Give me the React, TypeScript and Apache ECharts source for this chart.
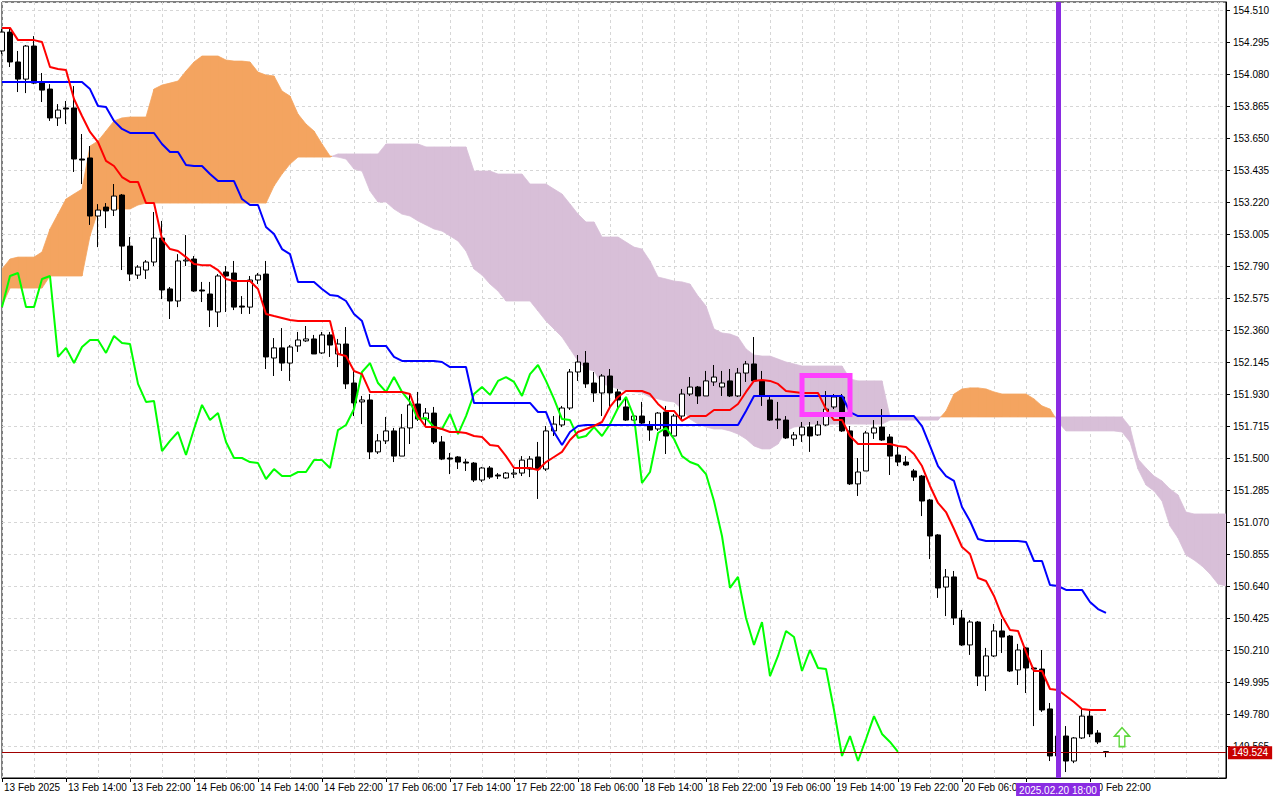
import React, { useEffect, useRef } from "react";
import * as echarts from "echarts";

// Trading sessions (hourly bars): date, first hour, last hour
const DAY_SESSIONS: [string, number, number][] = [
  ["2025.02.13", 6, 23],
  ["2025.02.14", 0, 23],
  ["2025.02.17", 0, 23],
  ["2025.02.18", 0, 23],
  ["2025.02.19", 0, 23],
  ["2025.02.20", 0, 23],
  ["2025.02.21", 0, 15],
];

// Bottom time labels, one every 8 bars ("" = hidden under the cursor label)
const TIME_LABELS = [
  "13 Feb 2025", "13 Feb 14:00", "13 Feb 22:00", "14 Feb 06:00", "14 Feb 14:00", "14 Feb 22:00",
  "17 Feb 06:00", "17 Feb 14:00", "17 Feb 22:00", "18 Feb 06:00", "18 Feb 14:00", "18 Feb 22:00",
  "19 Feb 06:00", "19 Feb 14:00", "19 Feb 22:00", "20 Feb 06:00", "", "20 Feb 22:00",
];

const PRICE_MIN = 149.35;
const PRICE_MAX = 154.564;
const PRICE_STEP = 0.215;

const OPEN = [
  154.235, 154.362, 154.161, 154.046, 154.268, 154.026, 153.979, 153.785, 153.852, 153.852,
  153.509, 153.516, 153.126, 153.186, 153.166, 153.267, 152.924, 152.729, 152.763, 152.817,
  152.978, 152.636, 152.555, 152.824, 152.837, 152.629, 152.602, 152.481, 152.750, 152.743,
  152.521, 152.514, 152.696, 152.736, 152.172, 152.240, 152.138, 152.253, 152.287, 152.300,
  152.206, 152.327, 152.199, 152.266, 152.004, 151.877, 151.890, 151.541, 151.615, 151.682,
  151.513, 151.702, 151.863, 151.762, 151.802, 151.608, 151.500, 151.507, 151.473, 151.466,
  151.352, 151.433, 151.386, 151.366, 151.392, 151.399, 151.426, 151.507, 151.426, 151.682,
  151.722, 151.836, 152.078, 152.138, 152.004, 151.937, 152.051, 151.944, 151.843, 151.755,
  151.782, 151.722, 151.695, 151.809, 151.648, 151.782, 151.930, 151.977, 151.917, 152.011,
  151.977, 152.018, 151.917, 152.071, 152.132, 152.018, 151.890, 151.762, 151.755, 151.628,
  151.655, 151.708, 151.655, 151.722, 151.843, 151.910, 151.682, 151.326, 151.413, 151.668,
  151.708, 151.641, 151.520, 151.473, 151.413, 151.379, 151.218, 150.983, 150.633, 150.701,
  150.425, 150.244, 150.398, 150.035, 150.170, 150.338, 150.304, 150.076, 150.224, 150.089,
  150.082, 149.814, 149.498, 149.632, 149.464, 149.619, 149.766, 149.652, 149.527,
];
const CLOSE = [
  154.362, 154.161, 154.046, 154.268, 154.019, 153.972, 153.785, 153.838, 153.845, 153.509,
  153.502, 153.126, 153.166, 153.160, 153.260, 152.924, 152.736, 152.783, 152.817, 152.978,
  152.629, 152.555, 152.824, 152.830, 152.622, 152.622, 152.494, 152.723, 152.723, 152.514,
  152.514, 152.696, 152.729, 152.179, 152.240, 152.138, 152.246, 152.293, 152.300, 152.199,
  152.327, 152.259, 152.266, 151.998, 151.870, 151.890, 151.541, 151.615, 151.682, 151.513,
  151.702, 151.857, 151.762, 151.802, 151.608, 151.493, 151.493, 151.473, 151.466, 151.352,
  151.433, 151.372, 151.379, 151.399, 151.399, 151.486, 151.493, 151.426, 151.682, 151.728,
  151.836, 152.078, 152.145, 151.998, 151.937, 152.051, 151.937, 151.890, 151.755, 151.782,
  151.735, 151.688, 151.802, 151.648, 151.782, 151.930, 151.977, 151.917, 152.018, 152.044,
  152.004, 151.917, 152.071, 152.132, 152.018, 151.917, 151.755, 151.755, 151.635, 151.655,
  151.708, 151.648, 151.722, 151.829, 151.910, 151.682, 151.326, 151.406, 151.668, 151.702,
  151.621, 151.513, 151.473, 151.453, 151.372, 151.211, 150.976, 150.627, 150.701, 150.425,
  150.244, 150.398, 150.035, 150.170, 150.338, 150.297, 150.069, 150.210, 150.089, 150.082,
  149.807, 149.498, 149.632, 149.464, 149.619, 149.766, 149.646, 149.592, 149.524,
];
const LOW = [
  154.214, 154.127, 153.959, 153.952, 154.012, 153.892, 153.765, 153.731, 153.744, 153.422,
  153.341, 153.066, 152.917, 153.045, 153.126, 152.763, 152.689, 152.703, 152.703, 152.790,
  152.568, 152.434, 152.514, 152.790, 152.616, 152.548, 152.380, 152.380, 152.481, 152.494,
  152.468, 152.468, 152.669, 152.098, 152.051, 152.085, 152.018, 152.213, 152.280, 152.199,
  152.199, 152.179, 152.111, 151.964, 151.782, 151.728, 151.493, 151.527, 151.594, 151.473,
  151.513, 151.594, 151.749, 151.715, 151.594, 151.486, 151.392, 151.426, 151.413, 151.339,
  151.339, 151.359, 151.359, 151.359, 151.366, 151.379, 151.372, 151.225, 151.413, 151.648,
  151.708, 151.823, 152.018, 151.971, 151.877, 151.782, 151.829, 151.829, 151.749, 151.749,
  151.715, 151.615, 151.682, 151.527, 151.648, 151.762, 151.917, 151.863, 151.917, 151.984,
  151.917, 151.910, 151.910, 152.011, 152.011, 151.850, 151.749, 151.695, 151.628, 151.581,
  151.608, 151.541, 151.648, 151.715, 151.829, 151.675, 151.319, 151.245, 151.413, 151.628,
  151.615, 151.386, 151.446, 151.446, 151.346, 151.110, 150.821, 150.560, 150.438, 150.378,
  150.237, 150.177, 149.968, 149.935, 150.163, 150.190, 150.062, 149.975, 149.921, 149.699,
  149.794, 149.464, 149.444, 149.390, 149.450, 149.612, 149.625, 149.578, 149.490,
];
const HIGH = [
  154.382, 154.396, 154.235, 154.275, 154.335, 154.087, 154.012, 153.878, 153.899, 153.999,
  153.677, 153.596, 153.206, 153.213, 153.341, 153.274, 152.985, 152.796, 152.830, 153.153,
  153.093, 152.649, 152.870, 152.998, 152.857, 152.683, 152.683, 152.736, 152.790, 152.824,
  152.588, 152.723, 152.743, 152.824, 152.306, 152.373, 152.259, 152.347, 152.387, 152.327,
  152.347, 152.347, 152.300, 152.380, 152.098, 151.917, 151.930, 151.661, 151.776, 151.702,
  151.796, 151.930, 151.944, 151.836, 151.843, 151.648, 151.534, 151.513, 151.493, 151.473,
  151.440, 151.446, 151.399, 151.406, 151.426, 151.513, 151.513, 151.608, 151.715, 151.782,
  151.850, 152.098, 152.192, 152.219, 152.078, 152.064, 152.098, 151.964, 151.910, 151.796,
  151.877, 151.749, 151.809, 151.850, 151.796, 151.964, 152.044, 151.984, 152.085, 152.125,
  152.085, 152.098, 152.105, 152.152, 152.313, 152.085, 151.917, 151.877, 151.782, 151.675,
  151.742, 151.742, 151.749, 151.950, 151.930, 151.930, 151.715, 151.500, 151.682, 151.755,
  151.829, 151.661, 151.574, 151.513, 151.426, 151.386, 151.225, 150.989, 150.754, 150.741,
  150.479, 150.411, 150.405, 150.224, 150.385, 150.418, 150.311, 150.251, 150.231, 150.096,
  150.210, 149.854, 149.679, 149.699, 149.625, 149.814, 149.814, 149.672, 149.531,
];

// Tenkan-sen (red)
const TENKAN = [
  154.390, 154.390, 154.308, 154.308, 154.308, 154.295, 154.127, 154.114, 154.107, 153.912,
  153.798, 153.691, 153.623, 153.496, 153.462, 153.388, 153.355, 153.355, 153.213, 153.213,
  152.971, 152.904, 152.891, 152.850, 152.803, 152.796, 152.796, 152.763, 152.703, 152.689,
  152.689, 152.689, 152.636, 152.468, 152.454, 152.441, 152.427, 152.420, 152.420, 152.420,
  152.420, 152.420, 152.199, 152.186, 152.085, 152.064, 151.944, 151.944, 151.944, 151.944,
  151.944, 151.930, 151.782, 151.708, 151.708, 151.695, 151.675, 151.675, 151.668, 151.648,
  151.641, 151.587, 151.581, 151.513, 151.433, 151.433, 151.433, 151.419, 151.473, 151.507,
  151.541, 151.621, 151.675, 151.695, 151.715, 151.742, 151.843, 151.910, 151.950, 151.950,
  151.950, 151.930, 151.863, 151.816, 151.816, 151.749, 151.782, 151.782, 151.782, 151.823,
  151.823, 151.823, 151.863, 151.944, 152.018, 152.024, 152.018, 151.998, 151.950, 151.944,
  151.937, 151.937, 151.937, 151.829, 151.755, 151.755, 151.648, 151.594, 151.594, 151.594,
  151.594, 151.594, 151.581, 151.574, 151.527, 151.446, 151.312, 151.198, 151.137, 151.023,
  150.902, 150.855, 150.694, 150.674, 150.573, 150.438, 150.344, 150.338, 150.197, 150.069,
  150.069, 149.948, 149.941, 149.901, 149.861, 149.814, 149.807, 149.807, 149.807,
];

// Kijun-sen (blue)
const KIJUN = [
  154.026, 154.026, 154.026, 154.026, 154.026, 154.026, 154.026, 154.026, 154.026, 154.026,
  154.026, 153.979, 153.865, 153.858, 153.765, 153.711, 153.684, 153.684, 153.684, 153.684,
  153.610, 153.556, 153.556, 153.469, 153.462, 153.462, 153.408, 153.361, 153.361, 153.361,
  153.240, 153.200, 153.200, 153.052, 153.005, 152.904, 152.870, 152.683, 152.683, 152.683,
  152.636, 152.595, 152.588, 152.555, 152.468, 152.420, 152.253, 152.253, 152.253, 152.179,
  152.152, 152.152, 152.152, 152.152, 152.152, 152.145, 152.111, 152.111, 152.111, 151.870,
  151.870, 151.870, 151.870, 151.870, 151.870, 151.870, 151.870, 151.809, 151.809, 151.675,
  151.587, 151.675, 151.715, 151.722, 151.722, 151.722, 151.722, 151.722, 151.722, 151.722,
  151.722, 151.722, 151.722, 151.722, 151.722, 151.722, 151.722, 151.722, 151.722, 151.722,
  151.722, 151.722, 151.722, 151.816, 151.917, 151.917, 151.917, 151.917, 151.917, 151.917,
  151.917, 151.917, 151.917, 151.917, 151.917, 151.917, 151.809, 151.782, 151.782, 151.782,
  151.782, 151.782, 151.782, 151.782, 151.782, 151.715, 151.581, 151.446, 151.379, 151.346,
  151.171, 151.077, 150.956, 150.943, 150.943, 150.943, 150.943, 150.943, 150.936, 150.808,
  150.808, 150.647, 150.640, 150.614, 150.614, 150.614, 150.533, 150.485, 150.459,
];

// Chikou span (green), drawn 26 bars back
const CHIKOU = [
  152.514, 152.723, 152.743, 152.514, 152.514, 152.703, 152.723, 152.179, 152.240, 152.138,
  152.246, 152.293, 152.293, 152.206, 152.320, 152.273, 152.266, 151.998, 151.877, 151.883,
  151.547, 151.615, 151.675, 151.520, 151.695, 151.857, 151.755, 151.802, 151.608, 151.500,
  151.500, 151.473, 151.466, 151.359, 151.426, 151.379, 151.379, 151.406, 151.406, 151.486,
  151.486, 151.433, 151.688, 151.722, 151.829, 152.078, 152.138, 152.004, 151.944, 152.044,
  151.944, 151.877, 151.762, 151.769, 151.708, 151.695, 151.796, 151.661, 151.782, 151.930,
  151.977, 151.924, 152.018, 152.044, 152.011, 151.917, 152.064, 152.125, 152.018, 151.897,
  151.762, 151.755, 151.635, 151.648, 151.708, 151.648, 151.728, 151.836, 151.910, 151.776,
  151.332, 151.406, 151.668, 151.702, 151.628, 151.513, 151.473, 151.453, 151.392, 151.211,
  150.976, 150.627, 150.701, 150.425, 150.244, 150.398, 150.035, 150.170, 150.338, 150.297,
  150.069, 150.210, 150.089, 150.082, 149.807, 149.498, 149.632, 149.464, 149.612, 149.766,
  149.646, 149.592, 149.525,
];

// Senkou span A and B (cloud), shifted 26 bars forward
const SENKOU_A = [
  152.770, 152.837, 152.850, 152.850, 152.850, 152.884, 153.039, 153.139, 153.240, 153.274,
  153.307, 153.596, 153.630, 153.697, 153.765, 153.785, 153.791, 153.791, 153.791, 153.979,
  154.006, 154.019, 154.033, 154.100, 154.161, 154.201, 154.201, 154.201, 154.174, 154.167,
  154.167, 154.161, 154.093, 154.073, 154.067, 153.966, 153.932, 153.811, 153.744, 153.697,
  153.610, 153.529, 153.522, 153.509, 153.442, 153.428, 153.294, 153.220, 153.220, 153.173,
  153.139, 153.126, 153.093, 153.066, 153.039, 153.025, 152.992, 152.958, 152.891, 152.770,
  152.729, 152.669, 152.622, 152.555, 152.555, 152.555, 152.555, 152.488, 152.420, 152.367,
  152.313, 152.233, 152.152, 152.098, 152.085, 151.998, 151.984, 151.964, 151.950, 151.944,
  151.937, 151.910, 151.897, 151.883, 151.877, 151.829, 151.762, 151.728, 151.708, 151.695,
  151.695, 151.682, 151.661, 151.628, 151.581, 151.561, 151.561, 151.594, 151.682, 151.708,
  151.715, 151.728, 151.728, 151.728, 151.728, 151.728, 151.728, 151.728, 151.728, 151.728,
  151.728, 151.755, 151.755, 151.755, 151.755, 151.755, 151.755, 151.755, 151.816, 151.930,
  151.964, 151.971, 151.971, 151.964, 151.944, 151.930, 151.930, 151.930, 151.930, 151.897,
  151.850, 151.829, 151.742, 151.682, 151.682, 151.682, 151.682, 151.682, 151.682, 151.682,
  151.675, 151.608, 151.426, 151.319, 151.278, 151.211, 151.043, 150.963, 150.848, 150.815,
  150.774, 150.721, 150.654, 150.640,
];
const SENKOU_B = [
  152.521, 152.642, 152.642, 152.642, 152.642, 152.642, 152.723, 152.723, 152.723, 152.723,
  152.723, 152.992, 153.160, 153.173, 153.173, 153.173, 153.173, 153.200, 153.213, 153.213,
  153.213, 153.213, 153.213, 153.213, 153.213, 153.213, 153.213, 153.213, 153.213, 153.213,
  153.213, 153.213, 153.213, 153.213, 153.328, 153.408, 153.475, 153.522, 153.522, 153.522,
  153.522, 153.522, 153.543, 153.543, 153.543, 153.543, 153.543, 153.543, 153.610, 153.610,
  153.610, 153.610, 153.610, 153.590, 153.590, 153.590, 153.590, 153.590, 153.590, 153.428,
  153.428, 153.428, 153.408, 153.408, 153.408, 153.408, 153.341, 153.341, 153.341, 153.307,
  153.274, 153.207, 153.139, 153.086, 153.086, 152.985, 152.985, 152.985, 152.951, 152.917,
  152.904, 152.824, 152.716, 152.703, 152.689, 152.683, 152.669, 152.588, 152.521, 152.367,
  152.340, 152.333, 152.313, 152.233, 152.192, 152.185, 152.185, 152.165, 152.145, 152.132,
  152.118, 152.118, 152.118, 152.118, 152.118, 152.118, 152.031, 152.018, 152.018, 152.018,
  152.018, 151.776, 151.776, 151.776, 151.776, 151.776, 151.776, 151.776, 151.776, 151.776,
  151.776, 151.776, 151.776, 151.776, 151.776, 151.776, 151.776, 151.776, 151.776, 151.776,
  151.776, 151.776, 151.776, 151.776, 151.776, 151.776, 151.776, 151.776, 151.776, 151.776,
  151.776, 151.708, 151.493, 151.433, 151.379, 151.346, 151.292, 151.252, 151.137, 151.124,
  151.124, 151.124, 151.124, 151.124,
];

// Chart objects
const SIGNAL_BOX = [100, 152.054, 106, 151.792]; // fromBar, top price, toBar, bottom price
const CURSOR_BAR = 132;
const CURSOR_LABEL = "2025.02.20 18:00";
const LAST_PRICE = 149.524;
const ARROW_BAR = 140;
const ARROW_PRICE = 149.625;

const BULL_CLOUD = "#F4A460";
const BEAR_CLOUD = "#D8BFD8";
const FONT = "Liberation Sans";

function buildCategories(): string[] {
  const out: string[] = [];
  DAY_SESSIONS.forEach(([d, h0, h1]) => {
    for (let h = h0; h <= h1; h++) out.push(`${d} ${String(h).padStart(2, "0")}:00`);
  });
  return out;
}

export default function App() {
  const ref = useRef<HTMLDivElement>(null);

  useEffect(() => {
    if (!ref.current) return;
    const chart = echarts.init(ref.current, null, { renderer: "svg" });
    const cats = buildCategories();
    const lastLabelBar = (TIME_LABELS.length - 1) * 8;
    const labelInterval = (i: number) => i % 8 === 0 && i <= lastLabelBar;

    const candles = OPEN.map((o, k) => [o, CLOSE[k], LOW[k], HIGH[k]]);
    const cloudData = SENKOU_A.slice(0, -1).map((a, k) => [k, a, SENKOU_B[k], SENKOU_A[k + 1], SENKOU_B[k + 1]]);

    const option: any = {
      animation: false,
      backgroundColor: "#ffffff",
      textStyle: { fontFamily: FONT },
      grid: {
        left: 2, top: 2, right: 54, bottom: 22,
        show: true, borderColor: "#000", borderWidth: 1, backgroundColor: "#fff",
      },
      xAxis: {
        type: "category",
        data: cats,
        boundaryGap: false,
        axisLine: { show: true, lineStyle: { color: "#000", width: 1 } },
        axisTick: { show: true, interval: labelInterval, length: 4, lineStyle: { color: "#000" } },
        axisLabel: {
          show: true,
          interval: labelInterval,
          align: "left",
          margin: 4,
          padding: [0, 0, 0, 2],
          fontSize: 10,
          fontFamily: FONT,
          color: "#000",
          formatter: (_v: string, i: number) => (i % 8 === 0 && i / 8 < TIME_LABELS.length ? TIME_LABELS[i / 8] : ""),
        },
        splitLine: { show: true, interval: 3, lineStyle: { color: "#d6d6d6", type: [3, 3], width: 1 } },
      },
      yAxis: {
        type: "value",
        position: "right",
        min: PRICE_MIN,
        max: PRICE_MAX,
        interval: PRICE_STEP,
        axisLine: { show: true, lineStyle: { color: "#000" } },
        axisTick: { show: true, length: 4, lineStyle: { color: "#000" } },
        axisLabel: {
          show: true,
          showMinLabel: false,
          showMaxLabel: false,
          margin: 7,
          fontSize: 10,
          fontFamily: FONT,
          color: "#000",
          formatter: (v: number) => v.toFixed(3),
        },
        splitLine: { show: true, lineStyle: { color: "#d6d6d6", type: [3, 3], width: 1 } },
      },
      series: [
        {
          name: "cloud",
          type: "custom",
          z: 1,
          clip: true,
          silent: true,
          encode: { x: 0, y: [1, 2, 3, 4] },
          data: cloudData,
          renderItem: (_p: any, api: any) => {
            const k = api.value(0);
            const a0 = api.value(1), b0 = api.value(2), a1 = api.value(3), b1 = api.value(4);
            const pa0 = api.coord([k, a0]);
            const pb0 = api.coord([k, b0]);
            const pa1 = api.coord([k + 1, a1]);
            const pb1 = api.coord([k + 1, b1]);
            const d0 = a0 - b0, d1 = a1 - b1;
            const poly = (pts: number[][], bull: boolean) => ({
              type: "polygon",
              shape: { points: pts },
              style: { fill: bull ? BULL_CLOUD : BEAR_CLOUD, stroke: bull ? BULL_CLOUD : BEAR_CLOUD, lineWidth: 0.8 },
            });
            if (d0 * d1 < 0) {
              const t = d0 / (d0 - d1);
              const pm = [pa0[0] + (pa1[0] - pa0[0]) * t, pa0[1] + (pa1[1] - pa0[1]) * t];
              return {
                type: "group",
                children: [poly([pa0, pm, pb0], d0 > 0), poly([pm, pa1, pb1], d1 > 0)],
              };
            }
            return poly([pa0, pa1, pb1, pb0], d0 + d1 > 0);
          },
        },
        {
          name: "price",
          type: "candlestick",
          z: 2,
          barWidth: 5,
          data: candles,
          itemStyle: {
            color: "#ffffff",
            color0: "#000000",
            borderColor: "#000000",
            borderColor0: "#000000",
            borderWidth: 1,
          },
        },
        {
          name: "Chikou",
          type: "line",
          z: 3,
          data: CHIKOU,
          symbol: "none",
          lineStyle: { color: "#00ff00", width: 2 },
        },
        {
          name: "Kijun",
          type: "line",
          z: 3,
          data: KIJUN,
          symbol: "none",
          lineStyle: { color: "#0000ff", width: 2 },
        },
        {
          name: "Tenkan",
          type: "line",
          z: 3,
          data: TENKAN,
          symbol: "none",
          lineStyle: { color: "#ff0000", width: 2 },
        },
        {
          name: "signal box",
          type: "custom",
          z: 5,
          silent: true,
          encode: { x: [0, 2], y: [1, 3] },
          data: [SIGNAL_BOX],
          renderItem: (_p: any, api: any) => {
            const p0 = api.coord([api.value(0), api.value(1)]);
            const p1 = api.coord([api.value(2), api.value(3)]);
            return {
              type: "rect",
              shape: { x: p0[0], y: p0[1], width: p1[0] - p0[0], height: p1[1] - p0[1] },
              style: { fill: "none", stroke: "#ff40ff", lineWidth: 5 },
            };
          },
        },
        {
          name: "objects",
          type: "scatter",
          z: 6,
          data: [[cats[ARROW_BAR], ARROW_PRICE]],
          symbol: "path://M8,0 L16,9 L11,9 L11,20 L5,20 L5,9 L0,9 Z",
          symbolSize: [15, 19],
          itemStyle: { color: "#ffffff", borderColor: "#5cd63a", borderWidth: 1.5, opacity: 1 },
          markLine: {
            silent: true,
            symbol: ["none", "none"],
            data: [
              {
                yAxis: LAST_PRICE,
                lineStyle: { color: "#a00000", width: 1, type: "solid" },
                label: {
                  show: true,
                  position: "end",
                  distance: 2,
                  formatter: LAST_PRICE.toFixed(3),
                  backgroundColor: "#c80000",
                  color: "#ffffff",
                  fontSize: 10,
                  fontFamily: FONT,
                  padding: [2, 4, 1, 4],
                },
              },
              {
                xAxis: cats[CURSOR_BAR],
                lineStyle: { color: "#8a2be2", width: 5, type: "solid" },
                label: {
                  show: true,
                  position: "start",
                  distance: 5,
                  formatter: CURSOR_LABEL,
                  backgroundColor: "#8a2be2",
                  color: "#ffffff",
                  fontSize: 10,
                  fontFamily: FONT,
                  padding: [2, 3, 1, 3],
                },
              },
            ],
          },
        },
      ],
    };

    chart.setOption(option);
    return () => chart.dispose();
  }, []);

  return (
    <div
      ref={ref}
      style={{ position: "fixed", left: 0, top: 0, width: 1280, height: 800, background: "#fff" }}
    />
  );
}
